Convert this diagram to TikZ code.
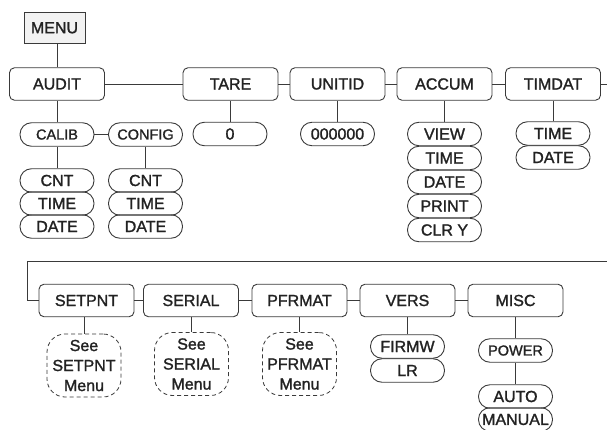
\documentclass[tikz,border=0pt]{standalone}
\usepackage{fontspec}
\setmainfont{Liberation Sans}
\newfontface\medfont{Liberation Sans}[RawFeature={embolden=1.5}]
\definecolor{ink}{HTML}{222222}
\definecolor{lne}{HTML}{3A3A3A}
\definecolor{menufill}{HTML}{F2F2F2}
\begin{document}
\begin{tikzpicture}[x=1pt,y=-1pt,
  every node/.style={text=ink, inner sep=0pt, font=\medfont\fontsize{16}{20}\selectfont},
  menubox/.style={draw=lne, line width=0.9pt, fill=menufill, minimum width=61pt, minimum height=31pt},
  mainbox/.style={draw=lne, line width=0.9pt, rounded corners=5pt, minimum width=95pt, minimum height=32.5pt},
  pill/.style={draw=lne, line width=0.9pt, rounded corners=11.5pt, minimum width=74pt, minimum height=23.5pt},
  smallpill/.style={pill, font=\medfont\fontsize{14.5}{18}\selectfont},
  dashbox/.style={draw=lne, line width=0.8pt, dash pattern=on 4pt off 3pt, rounded corners=18pt, minimum width=74pt, minimum height=63pt, align=center},
  link/.style={draw=lne, line width=0.9pt}]
\useasboundingbox (0,0) rectangle (607,430);

% top row
\node[menubox] (MENU) at (54.5,27.8) {MENU};
\node[mainbox] (AUDIT) at (57,84) {AUDIT};
\node[mainbox] (TARE) at (230.5,84) {TARE};
\node[mainbox] (UNITID) at (337.5,84) {UNITID};
\node[mainbox] (ACCUM) at (444.5,84) {ACCUM};
\node[mainbox] (TIMDAT) at (553,84) {TIMDAT};
\coordinate (R1) at (607,84);

\node[smallpill] (CALIB) at (57,134.5) {CALIB};
\node[smallpill] (CONFIG) at (145.5,134.5) {CONFIG};
\node[pill] (CNT1) at (57,180.5) {CNT};
\node[pill] (TIME1) at (57,203.5) {TIME};
\node[pill] (DATE1) at (57,226.5) {DATE};
\node[pill] (CNT2) at (145.5,180.5) {CNT};
\node[pill] (TIME2) at (145.5,203.5) {TIME};
\node[pill] (DATE2) at (145.5,226.5) {DATE};

\node[pill] (ZERO) at (230,134) {0};
\node[pill] (UID) at (337.5,134) {000000};

\node[pill] (VIEW) at (444.5,134) {VIEW};
\node[pill] (TIME3) at (444.5,158) {TIME};
\node[pill] (DATE3) at (444.5,182) {DATE};
\node[pill] (PRINT) at (444.5,206) {PRINT};
\node[pill] (CLRY) at (444.5,230) {CLR Y};

\node[pill] (TIME4) at (553,133.5) {TIME};
\node[pill] (DATE4) at (553,157.5) {DATE};

% second row
\coordinate (R2) at (607,261);
\coordinate (L2) at (27,261);
\node[mainbox] (SETPNT) at (86.5,300.5) {SETPNT};
\node[mainbox] (SERIAL) at (191,300.5) {SERIAL};
\node[mainbox] (PFRMAT) at (299.5,300.5) {PFRMAT};
\node[mainbox] (VERS) at (407.5,300.5) {VERS};
\node[mainbox] (MISC) at (515.5,300.5) {MISC};

\node[dashbox] (D1) at (84,365.5) {See\\SETPNT\\Menu};
\node[dashbox] (D2) at (191.5,364) {See\\SERIAL\\Menu};
\node[dashbox] (D3) at (299.5,364) {See\\PFRMAT\\Menu};

\node[pill] (FIRMW) at (407.5,346.5) {FIRMW};
\node[pill] (LR) at (407.5,370.5) {LR};

\node[smallpill] (POWER) at (515.5,350.5) {POWER};
\node[pill] (AUTO) at (515.5,396.5) {AUTO};
\node[pill] (MANUAL) at (515.5,419.5) {MANUAL};

% connectors
\path[link] (AUDIT.north) -- (AUDIT.north |- MENU.south);
\path[link] (AUDIT) -- (TARE);
\path[link] (TARE) -- (UNITID);
\path[link] (UNITID) -- (ACCUM);
\path[link] (ACCUM) -- (TIMDAT);
\path[link] (TIMDAT.east) -- (R1);
\path[link] (CALIB.north) -- (CALIB.north |- AUDIT.south);
\path[link] (CALIB) -- (CONFIG);
\path[link] (CNT1.north) -- (CNT1.north |- CALIB.south);
\path[link] (CNT2.north) -- (CNT2.north |- CONFIG.south);
\path[link] (ZERO.north) -- (ZERO.north |- TARE.south);
\path[link] (UID.north) -- (UID.north |- UNITID.south);
\path[link] (VIEW.north) -- (VIEW.north |- ACCUM.south);
\path[link] (TIME4.north) -- (TIME4.north |- TIMDAT.south);

\path[link] (R2) -- (L2) |- (SETPNT.west);
\path[link] (SETPNT) -- (SERIAL);
\path[link] (SERIAL) -- (PFRMAT);
\path[link] (PFRMAT) -- (VERS);
\path[link] (VERS) -- (MISC);
\path[link] (D1.north) -- (D1.north |- SETPNT.south);
\path[link] (D2.north) -- (D2.north |- SERIAL.south);
\path[link] (D3.north) -- (D3.north |- PFRMAT.south);
\path[link] (FIRMW.north) -- (FIRMW.north |- VERS.south);
\path[link] (POWER.north) -- (POWER.north |- MISC.south);
\path[link] (AUTO.north) -- (POWER.south);
\end{tikzpicture}
\end{document}
